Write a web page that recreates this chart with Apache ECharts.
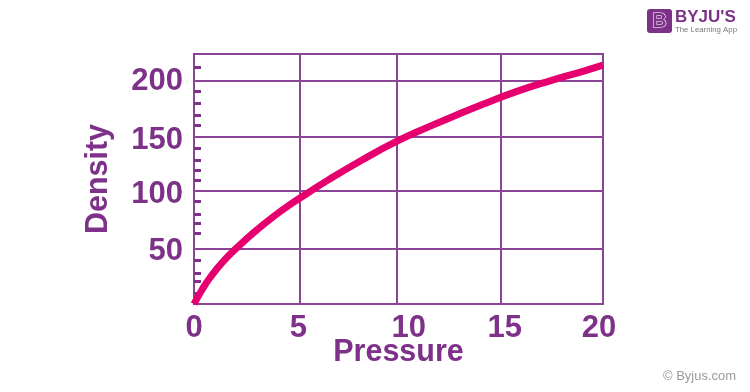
<!DOCTYPE html>
<html>
<head>
<meta charset="utf-8">
<style>
  html, body { margin: 0; padding: 0; background: #fff; }
  #chart { width: 750px; height: 392px; }
</style>
<script src="https://cdn.jsdelivr.net/npm/echarts@6/dist/echarts.min.js"></script>
</head>
<body>
<div id="chart"></div>
<script>
// curve
const pressure = [0, 0.4, 0.78, 1.42, 2.25, 3.08, 3.86, 4.69, 5.53, 6.55, 8.22, 9.83, 11.44, 12.67, 14.13, 15.79, 17.41, 19.02, 20]
const density = [0, 13, 23.5, 38, 53, 66.5, 78, 89, 99, 111, 129, 145, 158.5, 168, 179, 190.5, 200, 208.5, 214]
// the printed grid and labels are not quite even, these are where they sit
const xGridAt = [0, 5.18, 9.93, 15.02, 20]
const xLabelAt = [0, 5.1, 10.5, 15.2, 19.8]
const xLabels = ['0', '5', '10', '15', '20']
const yGridAt = [0, 49.5, 101.5, 150, 200]
const yLabelAt = [47, 98, 146.5, 199.5]
const yLabels = ['50', '100', '150', '200']
const yMinorTicks = [10, 20, 28, 39, 63, 72, 80, 92, 110.6, 120, 129, 140, 160, 169.5, 180, 191, 212]

const purple = '#7d3189'
const lineColor = '#8b4596'
const labelFont = { color: purple, fontFamily: 'Liberation Sans', fontWeight: 'bold', fontSize: 31 }
const nameFont = { ...labelFont, fontSize: 30.5 }

const chart = echarts.init(document.getElementById('chart'))
chart.setOption({
  animation: false,
  grid: { left: 194, top: 54, width: 409, height: 250, show: true, borderColor: lineColor, borderWidth: 2, backgroundColor: 'transparent' },
  xAxis: {
    type: 'value',
    min: 0,
    max: 20,
    name: 'Pressure',
    nameLocation: 'middle',
    nameGap: 33,
    nameMoveOverlap: false,
    nameTextStyle: nameFont,
    axisLine: { show: false },
    axisTick: { show: false, customValues: xGridAt },
    splitLine: { show: true, lineStyle: { color: lineColor, width: 2 } },
    axisLabel: {
      ...labelFont,
      margin: 9,
      customValues: xLabelAt,
      formatter: v => xLabels[xLabelAt.indexOf(v)]
    }
  },
  yAxis: [
    {
      type: 'value',
      min: 0,
      max: 224,
      name: 'Density',
      nameLocation: 'middle',
      nameGap: 80,
      nameMoveOverlap: false,
      nameTextStyle: nameFont,
      axisLine: { show: false },
      axisTick: { show: false, customValues: yGridAt },
      splitLine: { show: true, lineStyle: { color: lineColor, width: 2 } },
      axisLabel: {
        ...labelFont,
        margin: 11,
        customValues: yLabelAt,
        formatter: v => yLabels[yLabelAt.indexOf(v)]
      }
    },
    {
      type: 'value',
      position: 'left',
      min: 0,
      max: 224,
      axisLine: { show: false },
      axisLabel: { show: false },
      splitLine: { show: false },
      axisTick: {
        show: true,
        inside: true,
        length: 7,
        customValues: yMinorTicks,
        lineStyle: { color: purple, width: 3 }
      }
    }
  ],
  series: [
    {
      type: 'line',
      data: pressure.map((p, i) => [p, density[i]]),
      smooth: 0.5,
      showSymbol: false,
      clip: false,
      lineStyle: { color: '#e6006f', width: 7 }
    }
  ],
  graphic: [
    { type: 'rect', shape: { x: 647, y: 9, width: 25, height: 24, r: 3 }, style: { fill: '#7d3189' } },
    { type: 'text', style: { x: 659.5, y: 21.5, text: 'B', align: 'center', verticalAlign: 'middle', fill: '#7d3189', stroke: '#fff', lineWidth: 1.2, font: 'bold 20px "Liberation Sans"' } },
    { type: 'text', style: { x: 675, y: 9, text: "BYJU'S", fill: '#7d3189', font: 'bold 17px "Liberation Sans"' } },
    { type: 'text', style: { x: 675, y: 26, text: 'The Learning App', fill: '#777', font: '7.8px "Liberation Sans"' } },
    { type: 'text', style: { x: 663, y: 370, text: '© Byjus.com', fill: '#999', font: '13px "Liberation Sans"' } }
  ]
})
</script>
</body>
</html>
